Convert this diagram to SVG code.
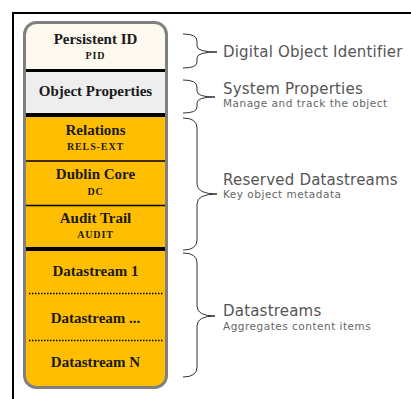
<svg xmlns="http://www.w3.org/2000/svg" width="411" height="399" viewBox="0 0 411 399">
  <style>
    .lbl { font-family: "Liberation Serif", "Times New Roman", serif; font-weight: bold; fill: #1a1a1a; text-anchor: middle; }
    .big { font-size: 15px; }
    .tag { font-size: 10px; letter-spacing: 0.9px; }
    .cap { font-family: "DejaVu Sans", Verdana, sans-serif; fill: #555555; }
    .title { font-size: 15px; letter-spacing: 0.2px; }
    .sub { font-size: 10.5px; letter-spacing: 0.5px; fill: #666666; }
    .brace { fill: none; stroke: #333333; stroke-width: 1; }
    .sep { stroke: #000000; }
    .dots { stroke: #000000; stroke-width: 1.5; stroke-dasharray: 1.5 1.5; }
  </style>
  <defs>
    <clipPath id="stackClip">
      <rect x="24.5" y="22.5" width="142" height="365" rx="12"/>
    </clipPath>
  </defs>

  <!-- page frame -->
  <path d="M13,399 V13 H411" fill="none" stroke="#000" stroke-width="2"/>

  <!-- object stack -->
  <g id="object-stack">
    <g clip-path="url(#stackClip)">
      <rect x="20" y="20" width="150" height="51" fill="#fdf9ef"/>
      <rect x="20" y="71" width="150" height="44" fill="#eeeeee"/>
      <rect x="20" y="115" width="150" height="280" fill="#ffbf00"/>
      <line class="sep" x1="20" y1="70.5" x2="170" y2="70.5" stroke-width="3"/>
      <line class="sep" x1="20" y1="115" x2="170" y2="115" stroke-width="4"/>
      <line class="sep" x1="20" y1="161" x2="170" y2="161" stroke-width="1.3"/>
      <line class="sep" x1="20" y1="205.5" x2="170" y2="205.5" stroke-width="1.3"/>
      <line class="sep" x1="20" y1="249" x2="170" y2="249" stroke-width="4"/>
    </g>
    <rect x="24.5" y="22.5" width="142" height="365" rx="12" fill="none" stroke="#808080" stroke-width="3"/>
  </g>

  <g id="persistent-id">
    <text class="lbl big" x="95.5" y="44">Persistent ID</text>
    <text class="lbl tag" x="95.5" y="59">PID</text>
  </g>
  <g id="object-properties">
    <text class="lbl big" x="95.5" y="96">Object Properties</text>
  </g>
  <g id="relations">
    <text class="lbl big" x="95.5" y="135">Relations</text>
    <text class="lbl tag" x="95.5" y="150">RELS-EXT</text>
  </g>
  <g id="dublin-core">
    <text class="lbl big" x="95.5" y="179">Dublin Core</text>
    <text class="lbl tag" x="95.5" y="195">DC</text>
  </g>
  <g id="audit-trail">
    <text class="lbl big" x="95.5" y="223">Audit Trail</text>
    <text class="lbl tag" x="95.5" y="238">AUDIT</text>
  </g>
  <g id="datastream-1">
    <text class="lbl big" x="95.5" y="276">Datastream 1</text>
  </g>
  <g id="datastream-more">
    <line class="dots" x1="29" y1="293.5" x2="163" y2="293.5"/>
    <text class="lbl big" x="95.5" y="323">Datastream ...</text>
  </g>
  <g id="datastream-n">
    <line class="dots" x1="29" y1="340.5" x2="163" y2="340.5"/>
    <text class="lbl big" x="95.5" y="367">Datastream N</text>
  </g>

  <!-- braces -->
  <g id="connectors">
    <path class="brace" d="M183,34 Q197,34 197,41 L197,46 Q197,52 217,52 Q197,52 197,58 L197,62 Q197,68 183,68"/>
    <path class="brace" d="M183,80 Q197,80 197,87 L197,91 Q197,97 215,97 Q197,97 197,103 L197,107 Q197,113 183,113"/>
    <path class="brace" d="M183,118 Q197,118 197,128 L197,184 Q197,194 217,194 Q197,194 197,204 L197,240 Q197,250 183,250"/>
    <path class="brace" d="M183,253 Q197,253 197,263 L197,306 Q197,316 215,316 Q197,316 197,326 L197,367 Q197,377 183,377"/>
  </g>

  <g id="digital-object-identifier">
    <text class="cap title" x="223" y="57">Digital Object Identifier</text>
  </g>
  <g id="system-properties">
    <text class="cap title" x="223" y="94">System Properties</text>
    <text class="cap sub" x="223" y="106.5">Manage and track the object</text>
  </g>
  <g id="reserved-datastreams">
    <text class="cap title" x="223" y="185">Reserved Datastreams</text>
    <text class="cap sub" x="223" y="198">Key object metadata</text>
  </g>
  <g id="datastreams">
    <text class="cap title" x="223" y="316">Datastreams</text>
    <text class="cap sub" x="223" y="330">Aggregates content items</text>
  </g>
</svg>
